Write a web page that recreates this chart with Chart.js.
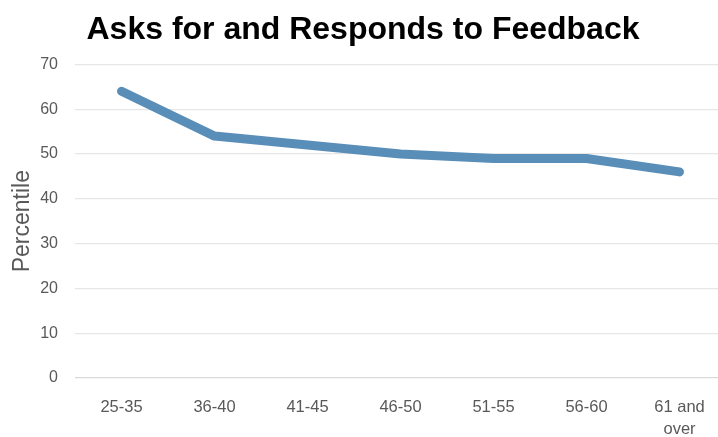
<!DOCTYPE html>
<html>
<head>
<meta charset="utf-8">
<script src="https://cdn.jsdelivr.net/npm/chart.js@4"></script>
<style>
  html, body { margin: 0; padding: 0; background: #ffffff; overflow: hidden; }
  #wrap { width: 730px; height: 437px; position: relative; }
</style>
</head>
<body>
<div id="wrap"><canvas id="chart" width="730" height="437"></canvas></div>
<script>
// Age bands and percentile scores
const ageGroups = ["25-35", "36-40", "41-45", "46-50", "51-55", "56-60", ["61 and", "over"]];
const percentiles = [64, 54, 52, 50, 49, 49, 46];
const yTicks = [0, 10, 20, 30, 40, 50, 60, 70];

const axisGrey = "#595959";
const fontFamily = "Liberation Sans, Arial, sans-serif";

new Chart(document.getElementById("chart"), {
  type: "line",
  data: {
    labels: ageGroups,
    datasets: [{
      data: percentiles,
      borderColor: "#598EB9",
      borderWidth: 9,
      borderCapStyle: "round",
      borderJoinStyle: "round",
      pointRadius: 0,
      tension: 0,
      fill: false
    }]
  },
  options: {
    responsive: false,
    animation: false,
    layout: { padding: { top: 0, right: 4, bottom: 0, left: 0 } },
    plugins: {
      legend: { display: false },
      tooltip: { enabled: false },
      title: {
        display: true,
        text: "Asks for and Responds to Feedback",
        color: "#000000",
        font: { family: fontFamily, size: 32, weight: "bold" },
        padding: { top: 11, bottom: 15 }
      }
    },
    scales: {
      x: {
        offset: true,
        grid: { display: false },
        border: { display: false },
        afterFit: (axis) => { axis.height = 59; },
        ticks: {
          color: axisGrey,
          font: { family: fontFamily, size: 16.5, lineHeight: 1.35 },
          padding: 10,
          maxRotation: 0,
          autoSkip: false
        }
      },
      y: {
        min: 0,
        max: 70,
        afterBuildTicks: (axis) => { axis.ticks = yTicks.map(v => ({ value: v })); },
        afterFit: (axis) => { axis.width = 75; },
        grid: {
          color: (ctx) => ctx.tick && ctx.tick.value === 0 ? "#d9d9d9" : "#e6e6e6",
          lineWidth: 1.3,
          drawTicks: false
        },
        border: { display: false },
        ticks: {
          color: axisGrey,
          font: { family: fontFamily, size: 16 },
          padding: 17
        },
        title: {
          display: true,
          text: "Percentile",
          color: axisGrey,
          font: { family: fontFamily, size: 23 },
          padding: { top: 9, bottom: 2 }
        }
      }
    }
  }
});
</script>
</body>
</html>
